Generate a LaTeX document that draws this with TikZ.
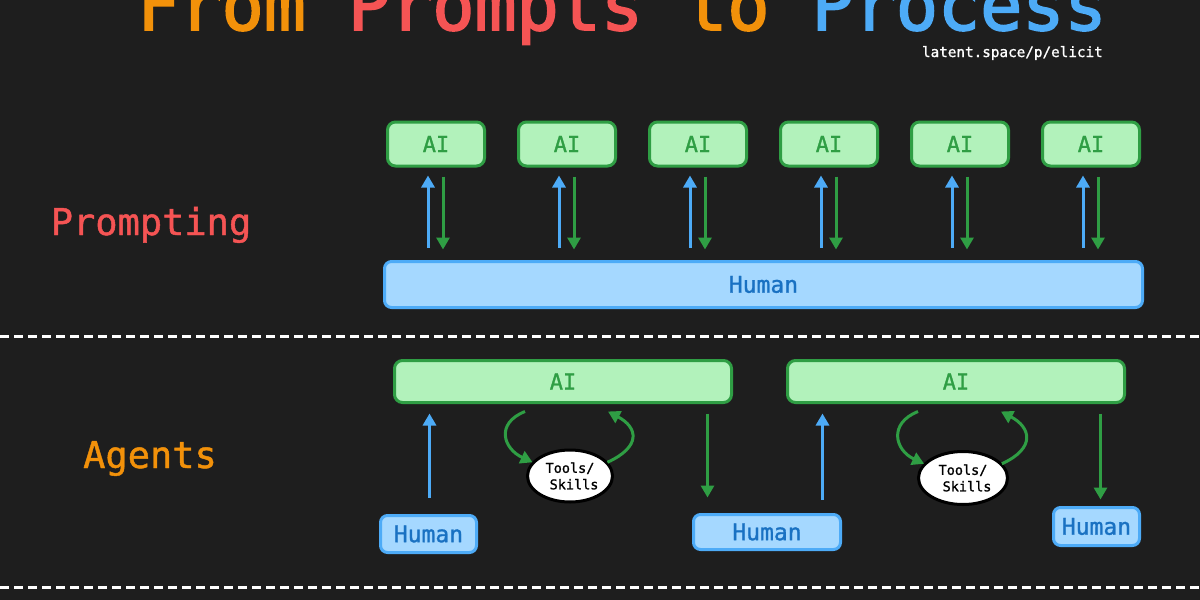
\documentclass[tikz,border=0pt]{standalone}
\usepackage{fontspec}
\setmainfont{DejaVu Sans Mono}[FakeBold=1.2]
\newfontfamily\titlefont{DejaVu Sans Mono}[FakeBold=2.5]
\usepackage{xcolor}
\usetikzlibrary{arrows.meta, positioning, shapes.geometric, calc}
\definecolor{fondo}{RGB}{30,30,30}
\definecolor{naranja}{RGB}{242,145,10}
\definecolor{rojo}{RGB}{245,84,84}
\definecolor{azul}{RGB}{77,171,247}
\definecolor{azulclaro}{RGB}{165,216,255}
\definecolor{azultexto}{RGB}{25,113,194}
\definecolor{verde}{RGB}{47,158,68}
\definecolor{verdeclaro}{RGB}{178,242,187}

\begin{document}
\begin{tikzpicture}[x=1pt, y=-1pt, >={Triangle[length=12pt,width=13pt]},
      aibox/.style={draw=verde, fill=verdeclaro, line width=3pt,
                    rounded corners=8pt, inner sep=0pt, outer sep=0pt,
                    text=verde, font=\fontsize{22}{26}\selectfont},
      humbox/.style={draw=azul, fill=azulclaro, line width=3pt,
                     rounded corners=7pt, inner sep=0pt, outer sep=0pt,
                     text=azultexto, font=\fontsize{23}{27}\selectfont},
      tool/.style={ellipse, draw=black, fill=white, line width=3pt,
                   inner sep=0pt, outer sep=0pt, align=center,
                   font=\fontsize{13.5}{16.5}\selectfont},
      uparr/.style={->, draw=azul, line width=3pt},
      downarr/.style={->, draw=verde, line width=3pt},
      sep/.style={draw=white, line width=3pt, dash pattern=on 9pt off 5pt}]

    \useasboundingbox (0,0) rectangle (1200,600);
    \fill[fondo] (0,0) rectangle (1200,600);

    % title
    \node[anchor=base, inner sep=0pt, font=\titlefont\fontsize{70}{80}\selectfont] (title) at (622,30)
      {\textcolor{naranja}{From} \textcolor{rojo}{Prompts} \textcolor{naranja}{to} \textcolor{azul}{Process}};
    \node[anchor=base east, inner sep=0pt, text=white, font=\fontsize{14.3}{17}\selectfont] (url) at (1103,57)
      {latent.space/p/elicit};

    % prompting
    \node[anchor=base, inner sep=0pt, text=rojo, font=\fontsize{37}{44}\selectfont] (lprompt) at (151,235) {Prompting};

    \node[aibox, minimum width=97pt, minimum height=44pt] (ai1) at (436,144) {AI};
    \node[aibox, minimum width=97pt, minimum height=44pt, right=34pt of ai1] (ai2) {AI};
    \node[aibox, minimum width=97pt, minimum height=44pt, right=34pt of ai2] (ai3) {AI};
    \node[aibox, minimum width=97pt, minimum height=44pt, right=34pt of ai3] (ai4) {AI};
    \node[aibox, minimum width=97pt, minimum height=44pt, right=34pt of ai4] (ai5) {AI};
    \node[aibox, minimum width=97pt, minimum height=44pt, right=34pt of ai5] (ai6) {AI};

    \node[humbox, minimum width=758pt, minimum height=46pt] (hum) at (763.5,284.5) {Human};

    \foreach \i in {1,...,6}{
      \coordinate (u\i) at ([xshift=-8pt]ai\i.south);
      \coordinate (d\i) at ([xshift=7pt]ai\i.south);
      \draw[uparr, shorten <=14pt, shorten >=9.5pt] (u\i |- hum.north) -- (u\i);
      \draw[downarr, shorten <=10.5pt, shorten >=12pt] (d\i) -- (d\i |- hum.north);
    }

    \draw[sep] (0,336) -- (1200,336);

    % agents
    \node[anchor=base, inner sep=0pt, text=naranja, font=\fontsize{37}{44}\selectfont] (lagents) at (150,468) {Agents};

    \node[aibox, minimum width=337pt, minimum height=42pt] (aiA) at (563,381.5) {AI};
    \node[aibox, minimum width=337pt, minimum height=42pt, right=56pt of aiA] (aiB) {AI};

    \node[humbox, minimum width=96pt, minimum height=37pt] (h1) at (428.5,534) {Human};
    \node[humbox, minimum width=147pt, minimum height=35pt] (h2) at (767,532) {Human};
    \node[humbox, minimum width=86pt, minimum height=38pt] (h3) at (1096.5,526.5) {Human};

    \node[tool, minimum width=85pt, minimum height=52pt] (tsA) at (570,476) {Tools/\\~Skills};
    \node[tool, minimum width=89pt, minimum height=53pt] (tsB) at (963,478) {Tools/\\~Skills};

    \coordinate (inA) at ([xshift=35pt]aiA.south west);
    \coordinate (outA) at ([xshift=-24pt]aiA.south east);
    \coordinate (inB) at ([xshift=35pt]aiB.south west);
    \coordinate (outB) at ([xshift=-24pt]aiB.south east);

    \draw[uparr, shorten <=18pt, shorten >=11pt] (inA |- h1.north) -- (inA);
    \draw[downarr, shorten <=11pt, shorten >=17pt] (outA) -- (outA |- h2.north);
    \draw[uparr, shorten <=15pt, shorten >=11pt] (inB |- h2.north) -- (inB);
    \draw[downarr, shorten <=11pt, shorten >=8pt] (outB) -- (outB |- h3.north);

    % tools loop
    \foreach \t in {A,B}{
      \draw[downarr, shorten >=1pt] ([xshift=-38pt,yshift=-9pt]ai\t.south)
        .. controls +(-30,12) and +(-30,-14) .. (ts\t.160);
      \draw[downarr, shorten <=1pt] (ts\t.20)
        .. controls +(35,-16) and +(30,16) .. ([xshift=45pt,yshift=-9pt]ai\t.south);
    }

    \draw[sep] (0,587) -- (1200,587);
  \end{tikzpicture}
\end{document}
